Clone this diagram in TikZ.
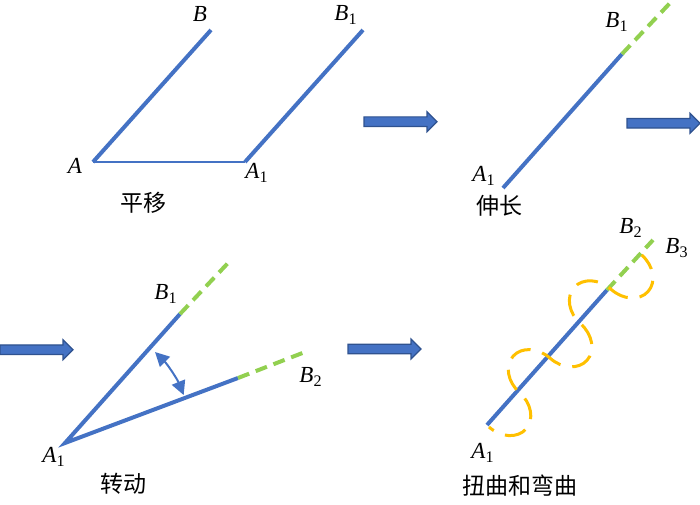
\documentclass[tikz,border=0pt]{standalone}
\usepackage{fontspec}
\setmainfont{Liberation Serif}
\newfontfamily\cjk{Noto Sans CJK SC}
\usetikzlibrary{arrows.meta}
\definecolor{segBlue}{RGB}{68,114,196}
\definecolor{segGreen}{RGB}{146,208,80}
\definecolor{segOrange}{RGB}{255,192,0}
\definecolor{arrEdge}{RGB}{47,82,143}

\begin{document}
\begin{tikzpicture}[x=0.5pt,y=0.5pt,
  seg/.style={segBlue,line width=2pt},
  ext/.style={segGreen,line width=2pt,dash pattern=on 6pt off 3.5pt},
  twist/.style={segOrange,line width=1.5pt,dash pattern=on 11pt off 6pt,dash phase=8pt},
  lbl/.style={font=\fontsize{11.5}{13}\selectfont,inner sep=0pt},
  title/.style={font=\fontsize{11.5}{13}\selectfont\cjk,inner sep=0pt},
  rotarr/.style={segBlue,line width=1pt,{Triangle[length=7pt,width=7pt]}-{Triangle[length=7pt,width=7pt]}},
  blockarr/.pic={\draw[fill=segBlue,draw=arrEdge,line width=0.6pt] (0,-4.8) -- (63,-4.8) -- (63,-10) -- (73,0) -- (63,10) -- (63,4.8) -- (0,4.8) -- cycle;}]
\useasboundingbox (0,0) rectangle (700,504);
% translation
\coordinate (pA) at (93,342);
\coordinate (pB) at (211,474);
\coordinate (pA1) at (245,342);
\coordinate (pB1) at (363,474);
\draw[seg] (pA) -- (pB);
\draw[seg] (pA1) -- (pB1);
\draw[segBlue,line width=0.75pt] (pA) -- (pA1);
\node[lbl] (lB) at (200,490) {\textit{B}};
\node[lbl] (lB1) at (346,489) {\textit{B}\textsubscript{1}};
\node[lbl] (lA) at (75,338) {\textit{A}};
\node[lbl] (lA1) at (257,331) {\textit{A}\textsubscript{1}};
\node[title] (cap1) at (143,301) {平移};
\pic at (364,382.3) {blockarr};
% stretching
\coordinate (sA1) at (503,316);
\coordinate (sB1) at (622,450);
\coordinate (sE) at (670,501);
\draw[seg] (sA1) -- (sB1);
\draw[ext] (sB1) -- (sE);
\node[lbl] (sl1) at (617,482) {\textit{B}\textsubscript{1}};
\node[lbl] (sl2) at (484,328) {\textit{A}\textsubscript{1}};
\node[title] (cap2) at (499,298) {伸长};
\pic at (627,380.7) {blockarr};
% rotation
\pic at (0,154.3) {blockarr};
\coordinate (rA1) at (65,61);
\coordinate (rB1) at (180,190);
\coordinate (rE1) at (228,241);
\coordinate (rB2) at (238,126);
\coordinate (rE2) at (305,152);
\draw[seg] (rB1) -- (rA1) -- (rB2);
\draw[ext] (rB1) -- (rE1);
\draw[ext] (rB2) -- (rE2);
\draw[rotarr] (rA1) ++(45.3:128) arc[start angle=45.3,end angle=22,radius=128];
\node[lbl] (rl1) at (166,210) {\textit{B}\textsubscript{1}};
\node[lbl] (rl2) at (311,127) {\textit{B}\textsubscript{2}};
\node[lbl] (rl3) at (54,47) {\textit{A}\textsubscript{1}};
\node[title] (cap3) at (123,20) {转动};
\pic at (348,155) {blockarr};
% twisting and bending
\coordinate (tA1) at (487,79);
\coordinate (tB2) at (607,214);
\coordinate (tE) at (653,264);
\coordinate (tw0) at (489,77);
\draw[seg] (tA1) -- (tB2);
\draw[ext] (tB2) -- (tE);
\begin{scope}[shift={(tw0)},rotate=48.4]
\draw[twist] (0,0) arc[start angle=180,end angle=360,x radius=23,y radius=29]
  arc[start angle=180,end angle=0,x radius=23,y radius=29]
  arc[start angle=180,end angle=360,x radius=23,y radius=29]
  arc[start angle=180,end angle=0,x radius=23,y radius=29]
  arc[start angle=180,end angle=360,x radius=23,y radius=29];
\end{scope}
\node[lbl] (tl1) at (631,276) {\textit{B}\textsubscript{2}};
\node[lbl] (tl2) at (677,256) {\textit{B}\textsubscript{3}};
\node[lbl] (tl3) at (483,51) {\textit{A}\textsubscript{1}};
\node[title] (cap4) at (520,18) {扭曲和弯曲};
\end{tikzpicture}
\end{document}
